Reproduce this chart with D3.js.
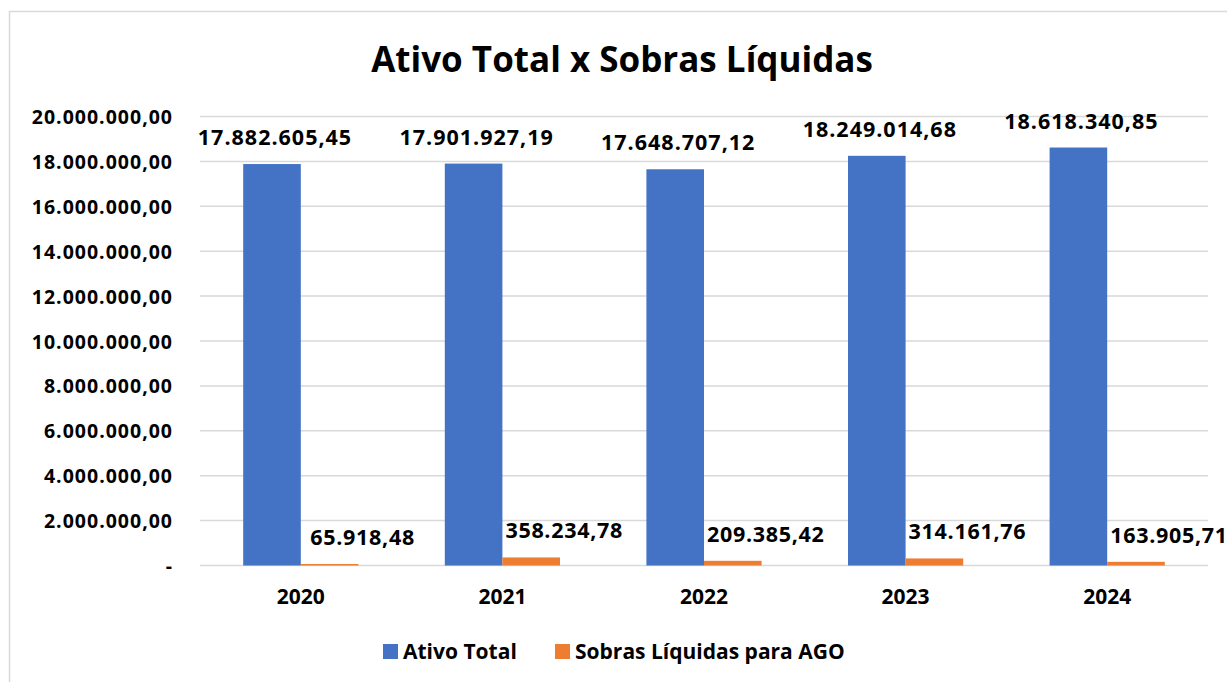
<!DOCTYPE html>
<html>
<head>
<meta charset="utf-8">
<script src="https://cdn.jsdelivr.net/npm/d3@7"></script>
<style>
  body { margin: 0; background: #fff; }
  text { font-family: "Open Sans", sans-serif; font-weight: bold; fill: #000; }
</style>
</head>
<body>
<script>
var years = ['2020', '2021', '2022', '2023', '2024'];
var ativoTotal = [17882605.45, 17901927.19, 17648707.12, 18249014.68, 18618340.85];
var sobrasLiquidas = [65918.48, 358234.78, 209385.42, 314161.76, 163905.71];
var seriesNames = ['Ativo Total', 'Sobras Líquidas para AGO'];
var yTicks = [0, 2000000, 4000000, 6000000, 8000000, 10000000, 12000000, 14000000, 16000000, 18000000, 20000000];

var colors = ['#4472C4', '#ED7D31'];

var W = 1227, H = 682;
var margin = {top: 116.5, right: 19, bottom: 116.5, left: 200};

var br = d3.formatLocale({decimal: ',', thousands: '.', grouping: [3], currency: ['R$', '']});
var fmt = br.format(',.2f');
function fmtTick(v) { return v === 0 ? '-' : fmt(v); }

var svg = d3.select('body').append('svg')
  .attr('width', W)
  .attr('height', H);

// chart border
svg.append('rect')
  .attr('x', 9.5).attr('y', 11.5)
  .attr('width', 1240).attr('height', 700)
  .attr('fill', '#fff')
  .attr('stroke', '#d9d9d9')
  .attr('stroke-width', 1.5);

var x = d3.scaleBand()
  .domain(years)
  .range([margin.left, W - margin.right]);

var y = d3.scaleLinear()
  .domain([0, 20000000])
  .range([H - margin.bottom, margin.top]);

var bw = x.bandwidth() / 3.5;

// gridlines
svg.append('g')
  .selectAll('line')
  .data(yTicks)
  .enter().append('line')
  .attr('x1', margin.left)
  .attr('x2', W - margin.right)
  .attr('y1', function(d) { return y(d); })
  .attr('y2', function(d) { return y(d); })
  .attr('stroke', '#d9d9d9')
  .attr('stroke-width', 1.5);

// y axis labels
var yAxis = d3.axisLeft(y)
  .tickValues(yTicks)
  .tickFormat(fmtTick)
  .tickSize(0)
  .tickPadding(0);

var ya = svg.append('g')
  .attr('transform', 'translate(173,0)')
  .call(yAxis);
ya.select('.domain').remove();
ya.selectAll('text')
  .attr('font-family', null)
  .attr('dy', '0.36em')
  .style('font-size', '19.5px')
  .style('letter-spacing', '1px');

// x axis labels
var xAxis = d3.axisBottom(x).tickSize(0).tickPadding(0);
var xa = svg.append('g')
  .attr('transform', 'translate(0,' + (H - margin.bottom) + ')')
  .call(xAxis);
xa.select('.domain').remove();
xa.selectAll('text')
  .attr('font-family', null)
  .attr('y', 38)
  .attr('dy', 0)
  .style('font-size', '21px');

var rows = years.map(function(yr, i) {
  return {year: yr, vals: [ativoTotal[i], sobrasLiquidas[i]]};
});

var groups = svg.append('g').selectAll('g')
  .data(rows)
  .enter().append('g');

groups.selectAll('rect')
  .data(function(d) { return d.vals.map(function(v, s) { return {year: d.year, v: v, s: s}; }); })
  .enter().append('rect')
  .attr('x', function(d) { return x(d.year) + x.bandwidth() / 2 + (d.s - 1) * bw; })
  .attr('y', function(d) { return y(d.v); })
  .attr('width', bw)
  .attr('height', function(d) { return y(0) - y(d.v); })
  .attr('fill', function(d) { return colors[d.s]; });

// data labels
groups.selectAll('text.lbl')
  .data(function(d) { return d.vals.map(function(v, s) { return {year: d.year, v: v, s: s}; }); })
  .enter().append('text')
  .attr('class', 'lbl')
  .attr('x', function(d) {
    var cx = x(d.year) + x.bandwidth() / 2 + (d.s - 0.5) * bw;
    return d.s === 0 ? cx + 3 : cx + 33;
  })
  .attr('y', function(d) { return y(d.v) - 19; })
  .attr('text-anchor', 'middle')
  .style('font-size', '21.5px')
  .style('letter-spacing', function(d) { return d.s === 0 ? '1px' : '0.7px'; })
  .text(function(d) { return fmt(d.v); });

// title
svg.append('text')
  .attr('x', 622)
  .attr('y', 72)
  .attr('text-anchor', 'middle')
  .style('font-size', '35px')
  .text('Ativo Total x Sobras Líquidas');

// legend
var legend = svg.append('g');
var legX = [383, 555];
seriesNames.forEach(function(name, i) {
  legend.append('rect')
    .attr('x', legX[i]).attr('y', 644)
    .attr('width', 15).attr('height', 15)
    .attr('fill', colors[i]);
  legend.append('text')
    .attr('x', legX[i] + 20)
    .attr('y', 659)
    .style('font-size', '21px')
    .text(name);
});
</script>
</body>
</html>
